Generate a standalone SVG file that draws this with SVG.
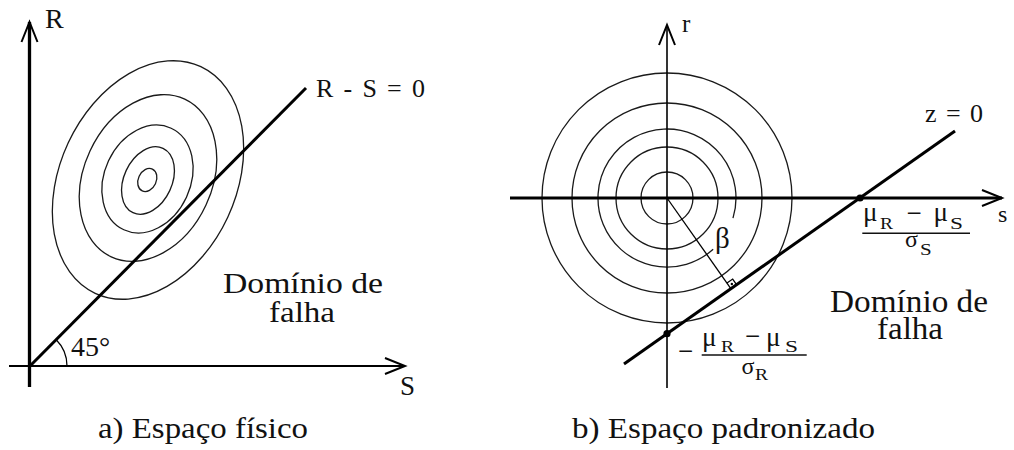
<svg xmlns="http://www.w3.org/2000/svg" width="1014" height="450" viewBox="0 0 1014 450" font-family="'Liberation Serif', 'Times New Roman', serif">
<style>
text{font-family:'Liberation Serif','Times New Roman',serif;fill:#111}
.ax{stroke:#000;fill:none}
.cont{stroke:#1a1a1a;stroke-width:1.3;fill:none}
.thin{stroke:#000;stroke-width:1.3;fill:none}
.bar{stroke:#111;stroke-width:1.5}
.sub{font-size:17px}
.m{font-size:27px}
.sg{font-size:24px}
</style>
<defs>
<marker id="arrow" markerUnits="userSpaceOnUse" markerWidth="24" markerHeight="20" refX="0" refY="0" orient="auto" overflow="visible">
<path d="M-20,-8 L0,0 L-20,8" fill="none" stroke="#000" stroke-width="2"/>
</marker>
</defs>
<rect width="1014" height="450" fill="#fff"/>

<g id="panel-a">
<g id="contours-a">
<ellipse class="cont" cx="148" cy="180" rx="88" ry="125" transform="rotate(25 148 180)"/>
<ellipse class="cont" cx="148" cy="178" rx="64" ry="87" transform="rotate(25 148 178)"/>
<ellipse class="cont" cx="147.5" cy="179" rx="43" ry="56" transform="rotate(25 147.5 179)"/>
<ellipse class="cont" cx="148" cy="180.5" rx="24" ry="35.5" transform="rotate(25 148 180.5)"/>
<ellipse class="cont" cx="147.3" cy="180" rx="9" ry="12" transform="rotate(25 147.3 180)"/>
</g>
<g id="connectors-a">
<line class="ax" x1="29.5" y1="387" x2="29.5" y2="22" stroke-width="3.3" marker-end="url(#arrow)"/>
<line class="ax" x1="9" y1="366" x2="405" y2="366" stroke-width="2" marker-end="url(#arrow)"/>
<line class="ax" x1="30" y1="366" x2="306" y2="88" stroke-width="3"/>
<path class="thin" d="M67,366 A37,37 0 0 0 56.2,339.8"/>
</g>
<g id="labels-a">
<text x="45" y="28" font-size="28">R</text>
<text x="400" y="395" font-size="27">S</text>
<text x="316" y="97" font-size="26" textLength="109">R - S = 0</text>
<text x="71" y="356" font-size="28">45°</text>
<text x="223" y="293" font-size="30" textLength="160" lengthAdjust="spacingAndGlyphs">Domínio de</text>
<text x="269" y="322" font-size="30" textLength="66" lengthAdjust="spacingAndGlyphs">falha</text>
<text x="98" y="438" font-size="30" textLength="210" lengthAdjust="spacingAndGlyphs">a) Espaço físico</text>
</g>
</g>

<g id="panel-b">
<g id="contours-b">
<circle class="cont" cx="667" cy="198" r="125"/>
<circle class="cont" cx="667" cy="198" r="95"/>
<path class="cont" d="M713.17,249.28 A69,69 0 1 1 732.98,218.17"/>
<circle class="cont" cx="667" cy="198" r="51"/>
<circle class="cont" cx="667" cy="198" r="26"/>
</g>
<g id="connectors-b">
<line class="ax" x1="667" y1="388" x2="667" y2="25" stroke-width="1.6" marker-end="url(#arrow)"/>
<line class="ax" x1="510" y1="198" x2="1002" y2="198" stroke-width="3" marker-end="url(#arrow)"/>
<line class="ax" x1="624" y1="364" x2="955" y2="131" stroke-width="3"/>
<line class="thin" x1="667" y1="198" x2="731" y2="288.8"/>
<polyline class="thin" stroke-width="1.1" points="726.97,283.08 732.69,279.05 736.72,284.77"/>
<circle cx="731.85" cy="283.93" r="1.2" fill="#000"/>
<circle cx="860" cy="198" r="3.6" fill="#000"/>
<circle cx="667" cy="333.7" r="3.6" fill="#000"/>
</g>
<g id="labels-b">
<text x="682" y="32" font-size="25">r</text>
<text x="998" y="222" font-size="24">s</text>
<text x="925" y="122" font-size="26" textLength="58">z = 0</text>
<text x="715" y="248" font-size="29">β</text>
<g id="frac-s">
<text class="m" x="863" y="220.5">μ</text><text class="sub" x="880" y="229.3" textLength="13" lengthAdjust="spacingAndGlyphs">R</text>
<text class="m" x="906.5" y="221.7">−</text>
<text class="m" x="933.5" y="220.5">μ</text><text class="sub" x="950" y="229.3" textLength="13" lengthAdjust="spacingAndGlyphs">S</text>
<line class="bar" x1="862.3" y1="233.3" x2="970" y2="233.3"/>
<text class="sg" x="905" y="246.7">σ</text><text class="sub" x="920" y="254.5" textLength="11.7" lengthAdjust="spacingAndGlyphs">S</text>
</g>
<g id="frac-r">
<text class="m" x="678" y="360">−</text>
<text class="m" x="702" y="345.5">μ</text><text class="sub" x="721" y="351.7" textLength="13" lengthAdjust="spacingAndGlyphs">R</text>
<text class="m" x="745" y="345">−</text>
<text class="m" x="766" y="345.5">μ</text><text class="sub" x="785" y="351.7" textLength="13" lengthAdjust="spacingAndGlyphs">S</text>
<line class="bar" x1="701.7" y1="355" x2="806.7" y2="355"/>
<text class="sg" x="741.5" y="374">σ</text><text class="sub" x="755" y="380" textLength="13" lengthAdjust="spacingAndGlyphs">R</text>
</g>
<text x="830" y="312" font-size="31" textLength="158" lengthAdjust="spacingAndGlyphs">Domínio de</text>
<text x="877" y="339" font-size="31" textLength="66" lengthAdjust="spacingAndGlyphs">falha</text>
<text x="572" y="438" font-size="30" textLength="303" lengthAdjust="spacingAndGlyphs">b) Espaço padronizado</text>
</g>
</g>
</svg>
